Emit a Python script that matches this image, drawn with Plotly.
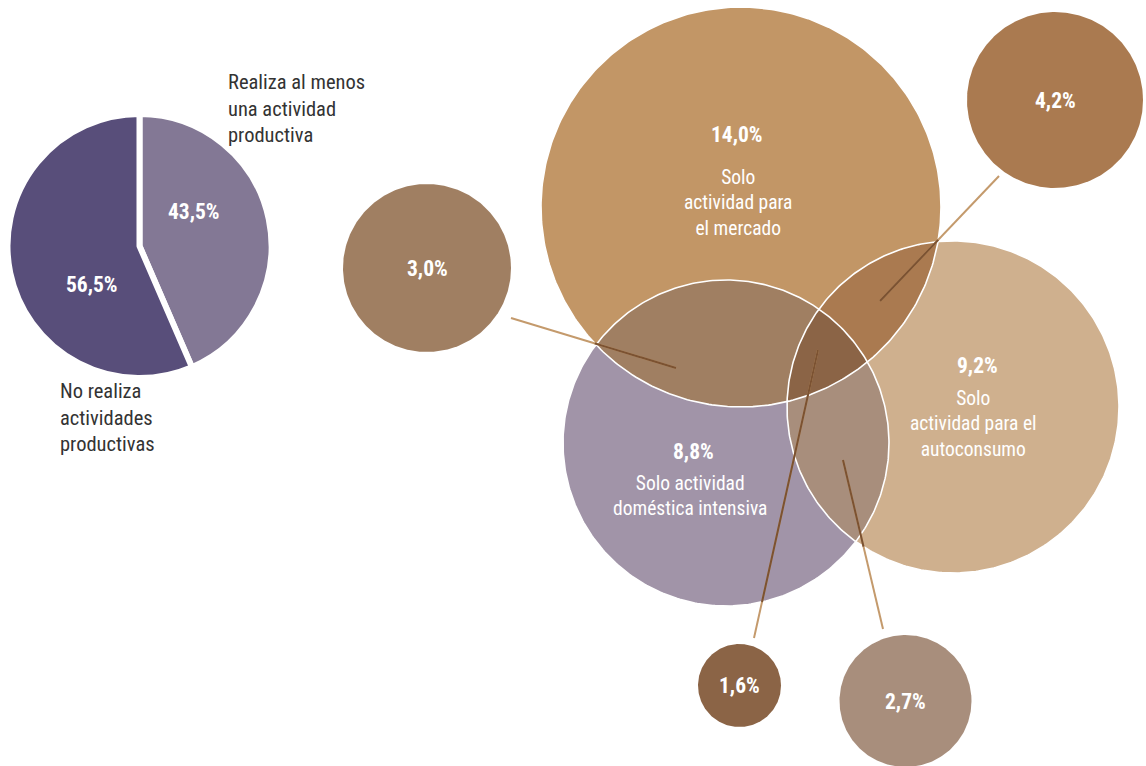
import numpy as np
import plotly.graph_objects as go

# ---------------- data ----------------
pie_labels = ["Realiza al menos una actividad productiva", "No realiza actividades productivas"]
pie_values = [43.5, 56.5]
pie_text = ["43,5%", "56,5%"]
pie_colors = ["#837895", "#584e7a"]

set_names = ["mercado", "autoconsumo", "domestica"]
set_values = [14.0, 9.2, 8.8]
set_text = ["14,0%", "9,2%", "8,8%"]
set_desc = ["Solo<br>actividad para<br>el mercado",
            "Solo<br>actividad para el<br>autoconsumo",
            "Solo actividad<br>doméstica intensiva"]
set_colors = ["#c29666", "#cfb08e", "#a194a8"]

inter_names = ["mercado+domestica", "mercado+autoconsumo", "mercado+autoconsumo+domestica", "autoconsumo+domestica"]
inter_sets = [[0, 2], [0, 1], [0, 1, 2], [1, 2]]
inter_values = [3.0, 4.2, 1.6, 2.7]
inter_text = ["3,0%", "4,2%", "1,6%", "2,7%"]
inter_colors = ["#a07f62", "#aa7a50", "#8b6446", "#a88e7c"]
inter_draw_order = [0, 1, 3, 2]

# ---------------- layout geometry (pixel space) ----------------
W, H = 1146, 766
set_cx = [741, 953, 726]
set_cy = [207, 407, 443]
set_r = [200, 166, 163]
set_label_xy = [(737, 134), (977, 365), (693, 451)]
set_desc_xy = [(738, 203), (973, 424), (690, 496)]

bubble_cx = [427, 1055, 739.5, 905.5]
bubble_cy = [268, 100, 685.5, 701]
bubble_r = [84, 88, 41.5, 66]
leader_from = [(511, 318), (999, 176), (754, 638), (883, 629)]
leader_to = [(676, 368), (880, 301), (818, 350), (843, 460)]

pie_center = (139.5, 246)
pie_radius = 132
pie_label_xy = [(194, 211), (92, 284)]

FONT = "Liberation Sans Narrow, Arial Narrow, Roboto Condensed, sans-serif"
TAN_LINE = "#c49a6c"
DARK_LINE = "#7b5232"


def circle_pts(cx, cy, r, n=360):
    t = np.linspace(0, 2 * np.pi, n)
    return cx + r * np.cos(t), cy + r * np.sin(t)


def inside_all(x, y, idx):
    m = np.ones_like(x, dtype=bool)
    for j in idx:
        m &= (x - set_cx[j]) ** 2 + (y - set_cy[j]) ** 2 <= set_r[j] ** 2 + 1e-6
    return m


def region(idx):
    pts = []
    for i in idx:
        t = np.linspace(0, 2 * np.pi, 1440, endpoint=False)
        x = set_cx[i] + set_r[i] * np.cos(t)
        y = set_cy[i] + set_r[i] * np.sin(t)
        others = [j for j in idx if j != i]
        m = inside_all(x, y, others)
        pts.append(np.c_[x[m], y[m]])
    P = np.vstack(pts)
    c = P.mean(axis=0)
    ang = np.arctan2(P[:, 1] - c[1], P[:, 0] - c[0])
    P = P[np.argsort(ang)]
    P = np.vstack([P, P[:1]])
    return P[:, 0], P[:, 1]


fig = go.Figure()

# big set circles
for i in range(3):
    x, y = circle_pts(set_cx[i], set_cy[i], set_r[i], 400)
    fig.add_trace(go.Scatter(x=x, y=y, mode="lines", fill="toself", fillcolor=set_colors[i],
                             line=dict(width=0), hoverinfo="skip", showlegend=False))

# intersection regions
for k in inter_draw_order:
    x, y = region(inter_sets[k])
    fig.add_trace(go.Scatter(x=x, y=y, mode="lines", fill="toself", fillcolor=inter_colors[k],
                             line=dict(width=0), hoverinfo="skip", showlegend=False))

# white outlines
for i in range(3):
    x, y = circle_pts(set_cx[i], set_cy[i], set_r[i], 400)
    fig.add_trace(go.Scatter(x=x, y=y, mode="lines", line=dict(color="white", width=1.6),
                             hoverinfo="skip", showlegend=False))

# leader lines
for (x0, y0), (x1, y1) in zip(leader_from, leader_to):
    fig.add_trace(go.Scatter(x=[x0, x1], y=[y0, y1], mode="lines",
                             line=dict(color=TAN_LINE, width=2), hoverinfo="skip", showlegend=False))
    s = np.linspace(0, 1, 600)
    lx = x0 + (x1 - x0) * s
    ly = y0 + (y1 - y0) * s
    inside = np.zeros_like(s, dtype=bool)
    for j in range(3):
        inside |= inside_all(lx, ly, [j])
    dx = np.where(inside, lx, np.nan)
    dy = np.where(inside, ly, np.nan)
    fig.add_trace(go.Scatter(x=dx, y=dy, mode="lines", connectgaps=False,
                             line=dict(color=DARK_LINE, width=2), hoverinfo="skip", showlegend=False))

# satellite bubbles
for k in range(4):
    x, y = circle_pts(bubble_cx[k], bubble_cy[k], bubble_r[k], 300)
    fig.add_trace(go.Scatter(x=x, y=y, mode="lines", fill="toself", fillcolor=inter_colors[k],
                             line=dict(width=0), hoverinfo="skip", showlegend=False))

# pie
cx, cy = pie_center
fig.add_trace(go.Pie(
    labels=pie_labels, values=pie_values, sort=False, direction="clockwise", rotation=0,
    marker=dict(colors=pie_colors, line=dict(color="white", width=6)),
    textinfo="none", hoverinfo="label+percent", showlegend=False,
    domain=dict(x=[(cx - pie_radius) / W, (cx + pie_radius) / W],
                y=[(H - cy - pie_radius) / H, (H - cy + pie_radius) / H]),
))

ann = []
white_bold = dict(family=FONT, size=21.5, color="white")
for (x, y), t in zip(pie_label_xy, pie_text):
    ann.append(dict(x=x, y=y, text="<b>" + t + "</b>", showarrow=False, font=white_bold))
for k in range(4):
    ann.append(dict(x=bubble_cx[k], y=bubble_cy[k], text="<b>" + inter_text[k] + "</b>",
                    showarrow=False, font=white_bold))
for i in range(3):
    ann.append(dict(x=set_label_xy[i][0], y=set_label_xy[i][1], text="<b>" + set_text[i] + "</b>",
                    showarrow=False, font=white_bold))
    ann.append(dict(x=set_desc_xy[i][0], y=set_desc_xy[i][1], text=set_desc[i], showarrow=False,
                    align="center", font=dict(family=FONT, size=19.5, color="white")))

dark = dict(family=FONT, size=20.5, color="#333333")
ann.append(dict(x=226, y=108, text="Realiza al menos<br>una actividad<br>productiva", showarrow=False,
                xanchor="left", align="left", font=dark))
ann.append(dict(x=58, y=417, text="No realiza<br>actividades<br>productivas", showarrow=False,
                xanchor="left", align="left", font=dark))

fig.update_layout(
    width=W, height=H, autosize=False,
    margin=dict(l=0, r=0, t=0, b=0),
    paper_bgcolor="white", plot_bgcolor="white",
    xaxis=dict(range=[0, W], visible=False, fixedrange=True),
    yaxis=dict(range=[H, 0], visible=False, fixedrange=True),
    annotations=ann,
    showlegend=False,
)

fig.write_html("out.html", config={"displayModeBar": False},
               post_script="document.body.style.margin='0';document.body.style.overflow='hidden';")
